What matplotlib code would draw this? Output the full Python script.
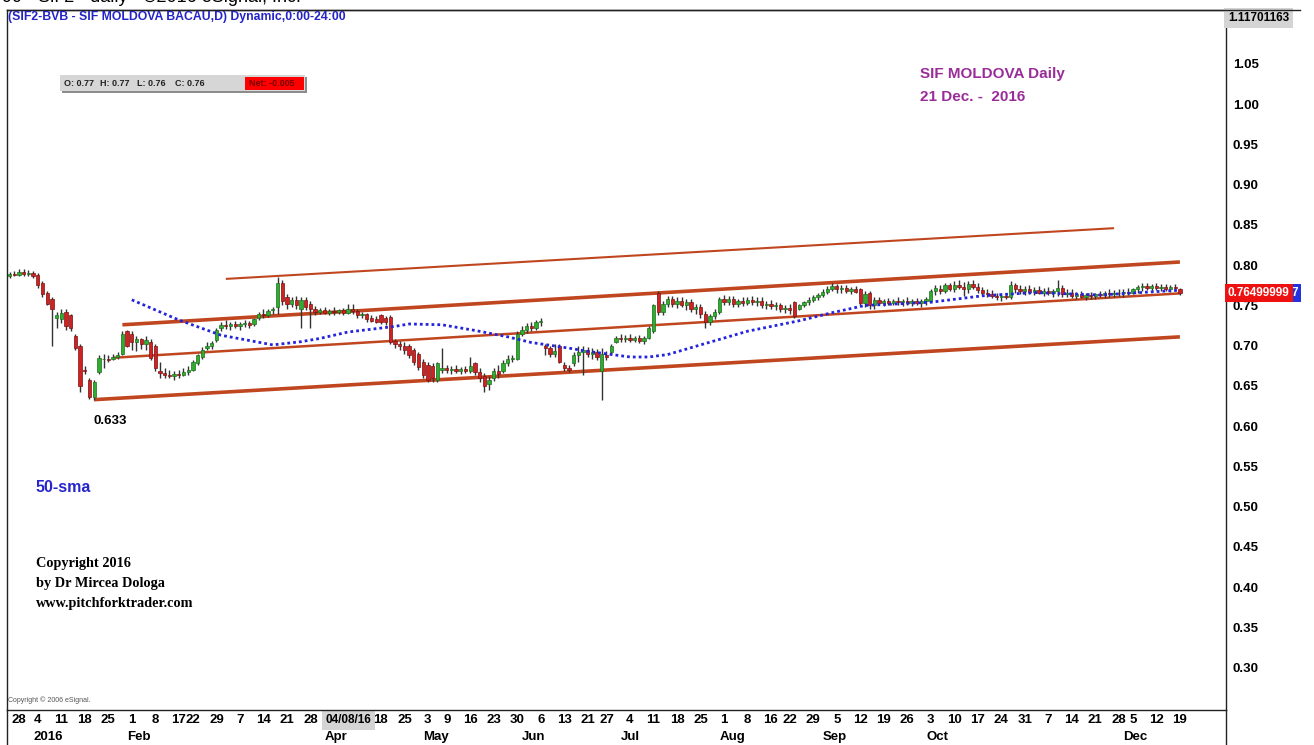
"""SIF MOLDOVA (SIF2) daily candles 2016 with 50-sma and pitchfork lines, eSignal look."""

import matplotlib
matplotlib.use('Agg')
import matplotlib.pyplot as plt
import matplotlib.patches as mpatch
import matplotlib.lines as mlines
import matplotlib.transforms as mtrans
import numpy as np
import pandas as pd

# BVB non-trading weekdays in the window
holidays = ['2015-12-24', '2015-12-25', '2016-01-01', '2016-02-15', '2016-02-16',
            '2016-05-02', '2016-06-20', '2016-08-15', '2016-11-30', '2016-12-01']
dates = pd.bdate_range('2015-12-22', '2016-12-19', freq='C', holidays=holidays)

# daily bars, one row per week
opens = [
    .787, .789,
    .788, .792, .789, .790,
    .788, .778, .765, .758, .735,
    .733, .742, .738, .712, .700,
    .670, .657, .636, .667, .683,
    .684, .684, .686, .690, .718,
    .715, .704, .708, .702, .705,
    .700, .668, .666, .663, .662,
    .665, .664, .667,
    .670, .678, .686, .697, .700,
    .707, .722, .726, .725, .727,
    .724, .727, .728, .727, .735,
    .740, .738, .744, .748, .778,
    .760, .752, .757, .745, .757,
    .752, .745, .742, .744, .741,
    .743, .742, .744, .741, .745,
    .743, .738, .739, .735, .733,
    .738, .734, .736, .706, .702,
    .700, .700, .695, .690, .680,
    .676, .675, .658, .670,
    .672, .670, .671, .669, .671,
    .668, .678, .667, .662, .652,
    .660, .668, .668, .678, .684,
    .684, .715, .720, .725, .722,
    .729, .700, .697, .690, .700,
    .676, .672, .678, .688, .692,
    .695, .690, .692, .668,
    .688, .692, .705, .710, .708,
    .710, .707, .709, .706, .710,
    .718, .765, .742, .752, .758,
    .752, .756, .750, .754, .746,
    .748, .740, .730, .737, .742,
    .758, .754, .758, .752, .755,
    .753, .757, .754, .756, .751,
    .752, .749, .751, .745,
    .747, .754, .746, .750, .754,
    .757, .760, .763, .767, .771,
    .774, .770, .772, .768, .770,
    .770, .753, .766, .750, .757,
    .753, .755, .753, .756, .754,
    .756, .753, .755, .753, .756,
    .756, .768, .770, .768, .775,
    .771, .776, .773, .770, .777,
    .773, .769, .766, .764, .762,
    .760, .762, .760, .775, .770,
    .768, .771, .767, .769, .766,
    .768, .766, .768, .772, .764,
    .766, .762, .764, .761, .763,
    .762, .764, .763, .765, .764,
    .766, .765, .767,
    .766, .770, .773, .774, .772,
    .774, .772, .773, .771, .773,
    .771,
]
highs = [
    .792, .793,
    .795, .795, .794, .793,
    .790, .781, .768, .760, .742,
    .746, .746, .740, .715, .702,
    .675, .660, .657, .688, .690,
    .688, .690, .692, .718, .720,
    .718, .712, .710, .712, .708,
    .702, .680, .672, .670, .668,
    .670, .672, .675,
    .682, .690, .698, .705, .706,
    .722, .730, .732, .730, .731,
    .730, .732, .731, .735, .742,
    .745, .746, .748, .785, .782,
    .764, .760, .762, .760, .760,
    .756, .749, .747, .748, .746,
    .748, .746, .747, .752, .752,
    .746, .742, .741, .738, .737,
    .740, .737, .738, .708, .706,
    .704, .702, .697, .692, .683,
    .680, .678, .680, .697,
    .676, .675, .676, .674, .675,
    .686, .680, .672, .666, .662,
    .672, .676, .682, .688, .688,
    .718, .724, .728, .730, .732,
    .735, .702, .700, .702, .702,
    .680, .676, .692, .700, .700,
    .698, .697, .696, .697,
    .694, .702, .712, .714, .713,
    .714, .712, .713, .712, .724,
    .752, .768, .756, .762, .762,
    .760, .760, .758, .758, .752,
    .752, .743, .740, .746, .760,
    .763, .762, .762, .758, .760,
    .760, .762, .760, .760, .756,
    .757, .754, .753, .751,
    .752, .756, .752, .756, .760,
    .763, .766, .770, .774, .778,
    .777, .775, .775, .773, .774,
    .772, .768, .768, .760, .760,
    .758, .759, .758, .760, .758,
    .760, .758, .759, .758, .760,
    .770, .776, .776, .778, .778,
    .780, .782, .779, .781, .782,
    .778, .773, .771, .769, .766,
    .765, .766, .780, .778, .776,
    .774, .775, .773, .774, .772,
    .773, .771, .782, .775, .770,
    .770, .767, .768, .766, .767,
    .766, .768, .768, .770, .769,
    .770, .770, .772,
    .772, .776, .778, .778, .777,
    .778, .777, .777, .776, .777,
    .772,
]
lows = [
    .784, .786,
    .786, .787, .786, .784,
    .772, .760, .750, .700, .722,
    .728, .720, .718, .695, .643,
    .665, .634, .633, .665, .672,
    .680, .682, .683, .688, .698,
    .695, .693, .696, .695, .682,
    .668, .660, .660, .660, .658,
    .660, .662, .664,
    .668, .676, .684, .695, .696,
    .705, .718, .721, .720, .722,
    .720, .723, .722, .724, .732,
    .735, .736, .739, .740, .750,
    .745, .748, .745, .722, .744,
    .722, .738, .739, .739, .738,
    .738, .739, .738, .739, .740,
    .735, .734, .730, .729, .728,
    .727, .726, .702, .697, .695,
    .690, .685, .676, .670, .660,
    .655, .655, .655, .666,
    .666, .665, .666, .665, .666,
    .666, .664, .655, .643, .645,
    .656, .660, .666, .675, .680,
    .682, .712, .716, .718, .720,
    .725, .688, .686, .686, .678,
    .668, .667, .675, .680, .664,
    .686, .684, .682, .633,
    .682, .690, .703, .705, .704,
    .705, .704, .703, .702, .708,
    .716, .738, .738, .748, .748,
    .747, .748, .744, .742, .740,
    .735, .722, .726, .733, .740,
    .750, .750, .748, .748, .749,
    .750, .751, .749, .747, .746,
    .745, .744, .742, .741,
    .740, .734, .744, .748, .751,
    .754, .757, .760, .764, .768,
    .766, .766, .765, .764, .765,
    .750, .748, .745, .745, .750,
    .749, .750, .750, .751, .749,
    .751, .749, .750, .748, .751,
    .754, .763, .764, .765, .768,
    .767, .770, .762, .765, .770,
    .766, .763, .761, .759, .757,
    .756, .758, .758, .766, .764,
    .763, .764, .763, .764, .762,
    .763, .761, .762, .760, .760,
    .759, .758, .759, .757, .758,
    .758, .760, .759, .761, .760,
    .762, .761, .763,
    .764, .766, .768, .769, .768,
    .769, .768, .768, .767, .768,
    .763,
]
closes = [
    .789, .788,
    .792, .789, .790, .786,
    .775, .764, .752, .745, .738,
    .741, .725, .722, .697, .650,
    .668, .636, .655, .685, .684,
    .682, .686, .688, .715, .700,
    .705, .708, .702, .707, .685,
    .672, .666, .664, .662, .665,
    .664, .667, .670,
    .680, .688, .695, .700, .703,
    .720, .726, .725, .727, .724,
    .727, .728, .726, .733, .740,
    .738, .743, .745, .778, .756,
    .752, .757, .750, .757, .748,
    .745, .742, .744, .741, .743,
    .742, .744, .741, .745, .743,
    .738, .739, .733, .731, .730,
    .729, .730, .705, .702, .700,
    .695, .688, .680, .674, .664,
    .658, .660, .678, .672,
    .670, .671, .669, .671, .668,
    .675, .667, .660, .650, .658,
    .668, .665, .678, .684, .685,
    .715, .720, .725, .722, .729,
    .731, .697, .690, .694, .680,
    .672, .670, .688, .692, .695,
    .690, .692, .686, .690,
    .686, .700, .710, .708, .710,
    .707, .709, .706, .710, .722,
    .750, .742, .752, .758, .752,
    .756, .750, .754, .746, .748,
    .740, .730, .737, .742, .758,
    .754, .758, .752, .755, .753,
    .757, .754, .756, .751, .752,
    .749, .751, .745, .747,
    .744, .737, .750, .754, .757,
    .760, .763, .767, .771, .774,
    .770, .772, .768, .770, .767,
    .753, .764, .750, .757, .753,
    .755, .753, .756, .754, .756,
    .753, .755, .753, .756, .758,
    .768, .772, .768, .775, .771,
    .776, .773, .770, .777, .773,
    .769, .766, .764, .762, .760,
    .762, .760, .775, .770, .768,
    .771, .767, .769, .766, .768,
    .766, .768, .772, .764, .766,
    .762, .764, .761, .763, .762,
    .764, .763, .765, .764, .766,
    .765, .767, .766,
    .770, .773, .774, .772, .774,
    .772, .773, .771, .773, .772,
    .765,
]

# 50-sma
sma_dates = ['2016-02-01', '2016-02-17', '2016-03-01', '2016-03-16', '2016-03-24',
             '2016-03-30', '2016-04-07', '2016-04-21', '2016-04-26', '2016-05-06',
             '2016-05-17', '2016-05-26', '2016-06-02', '2016-06-14', '2016-06-21',
             '2016-07-04', '2016-07-08', '2016-07-14', '2016-07-25', '2016-08-08',
             '2016-08-24', '2016-09-02', '2016-09-13', '2016-10-03', '2016-10-18',
             '2016-11-02', '2016-11-22', '2016-12-19']
sma_vals = [0.757, 0.732, 0.713, 0.701, 0.705, 0.709, 0.717, 0.724, 0.727, 0.726,
            0.719, 0.711, 0.704, 0.697, 0.693, 0.686, 0.686, 0.689, 0.701, 0.718,
            0.731, 0.741, 0.750, 0.754, 0.762, 0.766, 0.763, 0.769]

# pitchfork lines (start / end anchors)
line_start = ['2016-03-02', '2016-01-28', '2016-01-26', '2016-01-20']
line_start_px = [0.783, 0.726, 0.685, 0.633]
line_end = ['2016-11-25', '2016-12-19', '2016-12-19', '2016-12-19']
line_end_px = [0.846, 0.804, 0.765, 0.711]

day_label_dates = ['2015-12-28', '2016-01-04', '2016-01-11', '2016-01-18', '2016-01-25',
                   '2016-02-01', '2016-02-08', '2016-02-17', '2016-02-22', '2016-02-29',
                   '2016-03-07', '2016-03-14', '2016-03-21', '2016-03-28', '2016-04-08',
                   '2016-04-18', '2016-04-25', '2016-05-03', '2016-05-09', '2016-05-16',
                   '2016-05-23', '2016-05-30', '2016-06-06', '2016-06-13', '2016-06-21',
                   '2016-06-27', '2016-07-04', '2016-07-11', '2016-07-18', '2016-07-25',
                   '2016-08-01', '2016-08-08', '2016-08-16', '2016-08-22', '2016-08-29',
                   '2016-09-05', '2016-09-12', '2016-09-19', '2016-09-26', '2016-10-03',
                   '2016-10-10', '2016-10-17', '2016-10-24', '2016-10-31', '2016-11-07',
                   '2016-11-14', '2016-11-21', '2016-11-28', '2016-12-05', '2016-12-12',
                   '2016-12-19']
day_labels = ['28', '4', '11', '18', '25', '1', '8', '17', '22', '29', '7', '14', '21',
              '28', '04/08/16', '18', '25', '3', '9', '16', '23', '30', '6', '13', '21',
              '27', '4', '11', '18', '25', '1', '8', '16', '22', '29', '5', '12', '19',
              '26', '3', '10', '17', '24', '31', '7', '14', '21', '28', '5', '12', '19']
month_labels = ['2016', 'Feb', 'Mar', 'Apr', 'May', 'Jun', 'Jul', 'Aug', 'Sep',
                'Oct', 'Nov', 'Dec']

last_price_label = '0.76499999'
top_price_label = '1.11701163'
ohlc_labels = ['O: 0.77', 'H: 0.77', 'L: 0.76', 'C: 0.76']
net_text = 'Net: -0.005'

SANS = 'Liberation Sans'
W, H = 1314, 745


def fx(px):
    return px / W


def fy(py):
    return 1 - py / H


def idx(ds):
    return dates.get_indexer(pd.to_datetime(ds))


if __name__ == '__main__':
    assert len(opens) == len(highs) == len(lows) == len(closes) == len(dates)
    o, h, l, c = (np.array(v) for v in (opens, highs, lows, closes))
    x = np.arange(len(dates))

    fig = plt.figure(figsize=(W / 100, H / 100), dpi=100)
    ax = fig.add_axes([fx(7), fy(710), fx(1226) - fx(7), fy(10) - fy(710)])

    # candles
    ax.vlines(x, l, h, color='#333333', lw=1, zorder=3)
    up = c >= o
    ax.bar(x[up], (c - o)[up], bottom=o[up], width=0.7, color='#30ad30',
           edgecolor='#1c6e1c', lw=0.5, zorder=4)
    ax.bar(x[~up], (o - c)[~up], bottom=c[~up], width=0.7, color='#cf2222',
           edgecolor='#7a1212', lw=0.5, zorder=4)

    # 50-sma
    ax.plot(idx(sma_dates), sma_vals, color='#2424dd', lw=2.0,
            ls=(0, (1, 1.1)), zorder=5)

    # pitchfork lines
    for xs, ys, xe, ye, lw in zip(idx(line_start), line_start_px, idx(line_end),
                                  line_end_px, [1.5, 2.6, 1.8, 2.6]):
        ax.plot([xs, xe], [ys, ye], color='#c0461f', lw=lw,
                solid_capstyle='butt', zorder=2)

    ax.set_xlim(2 - 12 / 4.7, 2 + (1226 - 19) / 4.7)
    ax.set_ylim(0.2475, 1.117)

    # right price scale
    ax.yaxis.tick_right()
    yt = np.arange(0.30, 1.101, 0.05)
    ax.set_yticks(yt)
    ax.set_yticklabels([f'{v:.2f}' for v in yt], fontfamily=SANS,
                       fontweight='bold', fontsize=9.5)
    ax.tick_params(axis='y', length=0, pad=5)

    # date scale: day numbers and months
    ax.set_xticks(idx(day_label_dates))
    ax.set_xticklabels(day_labels, fontfamily=SANS, fontweight='bold', fontsize=9.5)
    month_first = pd.Series(dates).groupby(dates.to_period('M')).first()
    month_first = month_first[month_first.dt.year == 2016]
    ax.set_xticks(idx(month_first) - 1.0, minor=True)
    ax.set_xticklabels(month_labels, minor=True, fontfamily=SANS,
                       fontweight='bold', fontsize=9.5, ha='left')
    ax.tick_params(axis='x', which='both', length=0)
    ax.tick_params(axis='x', which='major', pad=3)
    ax.tick_params(axis='x', which='minor', pad=15)
    shift = mtrans.ScaledTranslation(-4 / 100, 0, fig.dpi_scale_trans)
    for lbl in ax.get_xticklabels():
        if lbl.get_text() == '04/08/16':
            lbl.set_fontsize(8.5)
            lbl.set_bbox(dict(facecolor='#d4d4d4', edgecolor='none', pad=2.5))
            lbl.set_transform(lbl.get_transform() + shift)
            lbl.set_zorder(5)

    for s in ax.spines.values():
        s.set_color('#222222')
        s.set_linewidth(1.0)

    # frame pieces around the scales
    for xs, ys in [([fx(7), fx(1300)], [fy(10), fy(10)]),
                   ([fx(7), fx(7)], [fy(710), fy(745)]),
                   ([fx(1226), fx(1226)], [fy(710), fy(745)])]:
        fig.add_artist(mlines.Line2D(xs, ys, color='#222222', lw=1.0))

    # price flags on the scale
    ax.annotate(top_price_label, xy=(1, 1.117), xycoords=('axes fraction', 'data'),
                xytext=(2, -8), textcoords='offset pixels', ha='left', va='center',
                fontfamily=SANS, fontweight='bold', fontsize=8.5, zorder=10,
                bbox=dict(boxstyle='square,pad=0.3', facecolor='#d4d4d4',
                          edgecolor='none'), annotation_clip=False)
    ax.annotate(last_price_label, xy=(1, c[-1]), xycoords=('axes fraction', 'data'),
                xytext=(2, 0), textcoords='offset pixels', ha='left', va='center',
                fontfamily=SANS, fontweight='bold', fontsize=8.5, color='white',
                zorder=11, bbox=dict(boxstyle='square,pad=0.25', facecolor='#ee1111',
                                     edgecolor='none'), annotation_clip=False)
    ax.annotate('7', xy=(1, c[-1]), xycoords=('axes fraction', 'data'),
                xytext=(66, 0), textcoords='offset pixels', ha='left', va='center',
                fontfamily=SANS, fontweight='bold', fontsize=8.5, color='white',
                zorder=10, bbox=dict(boxstyle='square,pad=0.25', facecolor='#2233dd',
                                     edgecolor='none'), annotation_clip=False)

    # header / annotations
    fig.text(fx(2), fy(-3), '99 - Sif 2 - daily - \u00a92016 eSignal, Inc.',
             fontsize=13, va='center', ha='left', family=SANS)
    fig.text(fx(8), fy(17), '(SIF2-BVB - SIF MOLDOVA BACAU,D) Dynamic,0:00-24:00',
             fontsize=8.8, fontweight='bold', family=SANS, color='#2323c8',
             va='center', ha='left')

    fig.add_artist(mpatch.Rectangle((fx(62), fy(93)), fx(245), 16 / H,
                                    transform=fig.transFigure, facecolor='#8c8c8c',
                                    edgecolor='none'))
    fig.add_artist(mpatch.Rectangle((fx(60), fy(91)), fx(245), 16 / H,
                                    transform=fig.transFigure, facecolor='#d6d6d6',
                                    edgecolor='none'))
    fig.add_artist(mpatch.Rectangle((fx(245), fy(90)), fx(59), 13 / H,
                                    transform=fig.transFigure, facecolor='#ff0000',
                                    edgecolor='none'))
    for px, txt in zip([64, 100, 137, 175], ohlc_labels):
        fig.text(fx(px), fy(83.5), txt, fontsize=6.5, fontweight='bold',
                 family=SANS, va='center', ha='left', color='#222222')
    fig.text(fx(249), fy(83.5), net_text, fontsize=6.5, fontweight='bold',
             family=SANS, va='center', ha='left', color='#7a0000')

    fig.text(fx(920), fy(74), 'SIF MOLDOVA Daily', fontsize=11, fontweight='bold',
             family=SANS, color='#9a2c9a', va='center', ha='left')
    fig.text(fx(920), fy(97), '21 Dec. -  2016', fontsize=11, fontweight='bold',
             family=SANS, color='#9a2c9a', va='center', ha='left')

    fig.text(fx(93), fy(421), '0.633', fontsize=9.5, fontweight='bold',
             family=SANS, va='center', ha='left')
    fig.text(fx(36), fy(487), '50-sma', fontsize=11.5, fontweight='bold',
             family=SANS, color='#2626cc', va='center', ha='left')

    for i, line in enumerate(['Copyright 2016', 'by Dr Mircea Dologa',
                              'www.pitchforktrader.com']):
        fig.text(fx(36), fy(563 + 20.5 * i), line, fontsize=10.3, fontweight='bold',
                 family='Liberation Serif', va='center', ha='left')
    fig.text(fx(8), fy(700), 'Copyright \u00a9 2006 eSignal.', fontsize=5,
             family=SANS, color='#555555', va='center', ha='left')

    fig.savefig('out.png', dpi=100)
